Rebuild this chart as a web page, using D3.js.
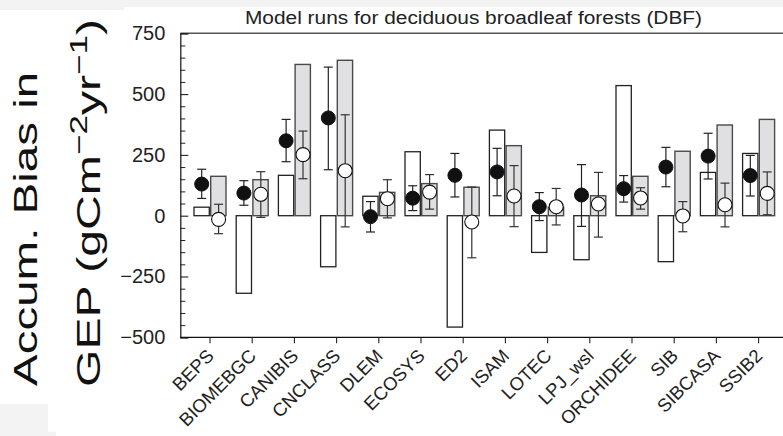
<!DOCTYPE html>
<html>
<head>
<meta charset="utf-8">
<script src="https://cdn.jsdelivr.net/npm/d3@7"></script>
<style>
  html, body { margin: 0; padding: 0; background: #fff; }
  svg { display: block; font-family: "Liberation Sans", Arial, Helvetica, sans-serif; }
</style>
</head>
<body>
<svg id="chart" width="783" height="436"></svg>
<script>
// Models evaluated at the deciduous broadleaf forest sites
const categories = ["BEPS", "BIOMEBGC", "CANIBIS", "CNCLASS", "DLEM", "ECOSYS", "ED2",
  "ISAM", "LOTEC", "LPJ_wsl", "ORCHIDEE", "SIB", "SIBCASA", "SSIB2"];

// Open bars (left of each tick) and shaded bars (right of each tick)
const openBar   = [35, -319, 166, -210, 80, 263, -458, 352, -151, -181, 535, -189, 178, 256];
const shadedBar = [162, 148, 622, 639, 96, 132, 117, 288, 35, 82, 162, 265, 373, 396];

// Filled circles with their error ranges
const filledMean = [130, 93, 308, 402, -4, 72, 166, 180, 37, 85, 111, 200, 245, 165];
const filledLow  = [71, 43, 222, 189, -67, 21, 77, 82, -20, -44, 56, 119, 151, 81];
const filledHigh = [191, 144, 396, 611, 58, 123, 256, 277, 95, 210, 165, 281, 339, 248];

// Open circles with their error ranges
const openMean = [-15, 88, 251, 185, 70, 97, -26, 81, 37, 48, 73, -1, 45, 92];
const openLow  = [-74, -7, 152, -46, -9, 27, -173, -45, -38, -88, 27, -66, -46, 4];
const openHigh = [47, 181, 348, 415, 148, 169, 118, 206, 112, 178, 115, 58, 134, 180];

const yTicks = [-500, -250, 0, 250, 500, 750];
const yMinorTicks = d3.range(-500, 751, 50);

const svg = d3.select("#chart");
const W = 783, H = 436;
const plot = { left: 180.3, top: 33.3, bottom: 337.3, right: 790 };

// faint grey patches along the page edges
svg.append("rect").attr("x", 0).attr("y", 0).attr("width", W).attr("height", 7).attr("fill", "#f3f3f3");
svg.append("rect").attr("x", 0).attr("y", 0).attr("width", 124).attr("height", 10).attr("fill", "#f3f3f3");
svg.append("rect").attr("x", 0).attr("y", 404).attr("width", 48).attr("height", 32).attr("fill", "#f3f3f3");
svg.append("rect").attr("x", 0).attr("y", 431.7).attr("width", 56).attr("height", 5).attr("fill", "#f3f3f3");

const step = 42.2;
const x = d3.scaleBand()
  .domain(categories)
  .range([210 - step / 2, 210 - step / 2 + step * categories.length])
  .padding(0);
const cx = d => x(d) + x.bandwidth() / 2;

const y = d3.scaleLinear().domain([-500, 750]).range([plot.bottom, plot.top]);

const rows = categories.map((c, i) => ({
  c,
  open: openBar[i], shaded: shadedBar[i],
  fm: filledMean[i], fl: filledLow[i], fh: filledHigh[i],
  om: openMean[i], ol: openLow[i], oh: openHigh[i]
}));

const barW = 15.3, gap = 0.7;

// bars
const g = svg.append("g");
g.selectAll("rect.open").data(rows).join("rect")
  .attr("class", "open")
  .attr("x", d => cx(d.c) - gap - barW)
  .attr("width", barW)
  .attr("y", d => y(Math.max(0, d.open)))
  .attr("height", d => Math.abs(y(d.open) - y(0)))
  .attr("fill", "#ffffff").attr("stroke", "#222").attr("stroke-width", 1.3);

g.selectAll("rect.shaded").data(rows).join("rect")
  .attr("class", "shaded")
  .attr("x", d => cx(d.c) + gap)
  .attr("width", barW)
  .attr("y", d => y(Math.max(0, d.shaded)))
  .attr("height", d => Math.abs(y(d.shaded) - y(0)))
  .attr("fill", "#e0e0e2").attr("stroke", "#4a4a4a").attr("stroke-width", 1.4);

// error bars
const cap = 4.5;
function errorBars(cls, xOff, lo, hi, color) {
  const eg = g.append("g").attr("class", cls).attr("stroke", color).attr("stroke-width", 1.2);
  eg.selectAll("line.v").data(rows).join("line").attr("class", "v")
    .attr("x1", d => cx(d.c) + xOff).attr("x2", d => cx(d.c) + xOff)
    .attr("y1", d => y(d[lo])).attr("y2", d => y(d[hi]));
  eg.selectAll("line.t").data(rows).join("line").attr("class", "t")
    .attr("x1", d => cx(d.c) + xOff - cap).attr("x2", d => cx(d.c) + xOff + cap)
    .attr("y1", d => y(d[hi])).attr("y2", d => y(d[hi]));
  eg.selectAll("line.b").data(rows).join("line").attr("class", "b")
    .attr("x1", d => cx(d.c) + xOff - cap).attr("x2", d => cx(d.c) + xOff + cap)
    .attr("y1", d => y(d[lo])).attr("y2", d => y(d[lo]));
}
const filledX = -8.3, openX = 8.6;
errorBars("err-filled", filledX, "fl", "fh", "#222");
errorBars("err-open", openX, "ol", "oh", "#333");

// circles
g.selectAll("circle.filled").data(rows).join("circle")
  .attr("class", "filled")
  .attr("cx", d => cx(d.c) + filledX).attr("cy", d => y(d.fm)).attr("r", 7)
  .attr("fill", "#111").attr("stroke", "#111");
g.selectAll("circle.openc").data(rows).join("circle")
  .attr("class", "openc")
  .attr("cx", d => cx(d.c) + openX).attr("cy", d => y(d.om)).attr("r", 7)
  .attr("fill", "#fff").attr("stroke", "#111").attr("stroke-width", 1.1);

// frame
svg.append("line").attr("x1", plot.left).attr("x2", plot.right)
  .attr("y1", plot.top).attr("y2", plot.top).attr("stroke", "#555").attr("stroke-width", 1.6);

// y axis with inward ticks
const yAxis = d3.axisLeft(y).tickValues(yTicks).tickSize(-8).tickPadding(15)
  .tickFormat(d => d3.format("")(d).replace("-", "\u2212"));
const ya = svg.append("g").attr("transform", `translate(${plot.left},0)`).call(yAxis);
ya.select(".domain").attr("stroke", "#222").attr("stroke-width", 1.3);
ya.selectAll(".tick line").attr("stroke", "#222").attr("stroke-width", 1.1);
ya.selectAll(".tick text").attr("font-size", 20).attr("fill", "#222")
  .attr("font-family", "'Liberation Sans', Arial, sans-serif");
const minorAxis = d3.axisLeft(y).tickValues(yMinorTicks.filter(v => !yTicks.includes(v)))
  .tickSize(-5).tickFormat("");
const ym = svg.append("g").attr("transform", `translate(${plot.left},0)`).call(minorAxis);
ym.select(".domain").remove();
ym.selectAll(".tick line").attr("stroke", "#222").attr("stroke-width", 1);

// x axis with outward ticks
const xAxis = d3.axisBottom(x).tickSize(6).tickFormat("");
const xa = svg.append("g").attr("transform", `translate(0,${plot.bottom})`).call(xAxis);
xa.select(".domain").attr("d", `M${plot.left},0H${plot.right}`).attr("stroke", "#111").attr("stroke-width", 1.3);
xa.selectAll(".tick line").attr("stroke", "#222").attr("stroke-width", 1.1);

// rotated category labels
svg.append("g").selectAll("text").data(categories).join("text")
  .attr("transform", d => `translate(${cx(d) + 5},357) rotate(-45)`)
  .attr("text-anchor", "end")
  .attr("font-size", 18.5)
  .attr("fill", "#222")
  .text(d => d);

// title, drawn slightly wide
svg.append("text")
  .attr("transform", "translate(473.5,24.3) scale(1.16,1)")
  .attr("text-anchor", "middle")
  .attr("font-size", 18)
  .attr("fill", "#222")
  .text("Model runs for deciduous broadleaf forests (DBF)");

// y axis title on two lines, stretched along the text direction
svg.append("text")
  .attr("transform", "translate(37,386) rotate(-90) scale(1.44,1)")
  .attr("font-size", 33)
  .attr("fill", "#111")
  .text("Accum. Bias in");
const t2 = svg.append("text")
  .attr("transform", "translate(100,387) rotate(-90) scale(1.46,1)")
  .attr("font-size", 33)
  .attr("fill", "#111");
t2.append("tspan").text("GEP (gCm");
t2.append("tspan").attr("font-size", 24).attr("dy", -13).text("\u22122");
t2.append("tspan").attr("dy", 13).text("yr");
t2.append("tspan").attr("font-size", 24).attr("dy", -13).text("\u22121");
t2.append("tspan").attr("dy", 13).text(")");
</script>
</body>
</html>
